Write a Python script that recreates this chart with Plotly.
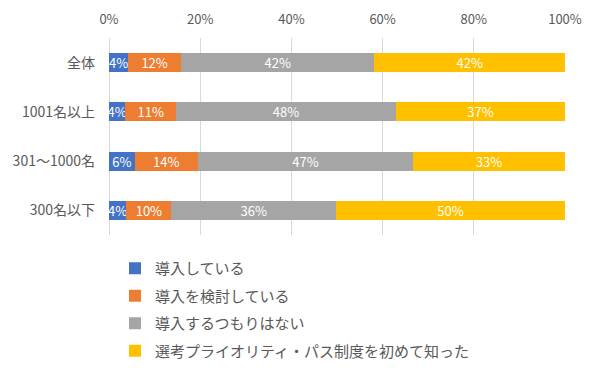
import plotly.graph_objects as go

categories = ["全体", "1001名以上", "301～1000名", "300名以下"]
series_names = ["導入している", "導入を検討している", "導入するつもりはない", "選考プライオリティ・パス制度を初めて知った"]
vals_intro = [4.2, 3.6, 5.6, 3.8]
vals_consider = [11.6, 11.1, 13.9, 9.9]
vals_no = [42.4, 48.2, 47.2, 36.1]
vals_new = [41.8, 37.1, 33.3, 50.2]
labels_intro = ["4%", "4%", "6%", "4%"]
labels_consider = ["12%", "11%", "14%", "10%"]
labels_no = ["42%", "48%", "47%", "36%"]
labels_new = ["42%", "37%", "33%", "50%"]
colors = ["#4472C4", "#ED7D31", "#A5A5A5", "#FFC000"]
x_ticks = [0, 20, 40, 60, 80, 100]
x_tick_text = ["0%", "20%", "40%", "60%", "80%", "100%"]

FONT = "Noto Sans CJK JP, sans-serif"

fig = go.Figure()
for i, (name, vals, labs) in enumerate(zip(series_names,
                                          [vals_intro, vals_consider, vals_no, vals_new],
                                          [labels_intro, labels_consider, labels_no, labels_new])):
    fig.add_trace(go.Bar(
        y=categories, x=vals, name=name, orientation="h",
        marker=dict(color=colors[i], line=dict(width=0)),
        text=labs, textposition="inside", insidetextanchor="middle",
        textangle=0,
        textfont=dict(color="white", size=13, family=FONT),
        legendgroup=f"g{i}", hoverinfo="skip",
        constraintext="none", cliponaxis=False,
    ))

# page body has an 8px margin, so the figure is laid out 8px up/left of screen positions
fig.update_layout(
    barmode="stack",
    bargap=0.61,
    width=600, height=375,
    margin=dict(l=101, r=43, t=30, b=148, autoexpand=False),
    paper_bgcolor="white", plot_bgcolor="white",
    font=dict(family=FONT, color="#595959", size=13),
    uniformtext=dict(mode="show", minsize=13),
    showlegend=True,
    legend=dict(
        orientation="v", xref="container", yref="container",
        x=107 / 600, xanchor="left", y=1 - 244 / 375, yanchor="top",
        traceorder="grouped", tracegroupgap=5,
        font=dict(size=15, color="#595959", family=FONT),
        itemwidth=30, bgcolor="rgba(0,0,0,0)",
    ),
    xaxis=dict(
        side="top", range=[0, 100], tickvals=x_ticks, ticktext=x_tick_text,
        showgrid=True, gridcolor="#D9D9D9", gridwidth=1,
        zeroline=True, zerolinecolor="#D9D9D9", zerolinewidth=1,
        showline=False, ticks="", tickfont=dict(size=13, color="#595959"),
        ticklabelstandoff=10,
        fixedrange=True, automargin=False,
    ),
    yaxis=dict(
        categoryorder="array", categoryarray=categories, autorange="reversed",
        showgrid=False, showline=False, ticks="", ticklabelstandoff=13,
        tickfont=dict(size=14, color="#595959"), automargin=False,
    ),
)

fig.write_html("out.html")
